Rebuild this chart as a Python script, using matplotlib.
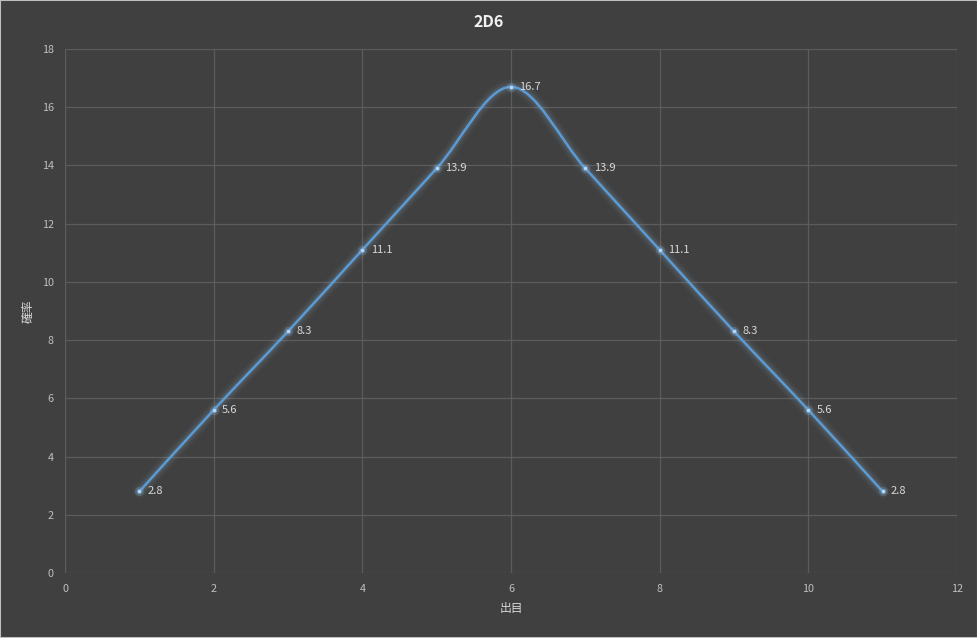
import matplotlib
matplotlib.use("Agg")
import matplotlib.pyplot as plt
from matplotlib.path import Path
from matplotlib.patches import PathPatch

plt.rcParams['font.family'] = ['Noto Sans CJK JP', 'DejaVu Sans']

# Data
rolls = [1, 2, 3, 4, 5, 6, 7, 8, 9, 10, 11]
probs = [2.8, 5.6, 8.3, 11.1, 13.9, 16.7, 13.9, 11.1, 8.3, 5.6, 2.8]
labels = ["2.8", "5.6", "8.3", "11.1", "13.9", "16.7", "13.9", "11.1", "8.3", "5.6", "2.8"]
title = "2D6"
xlabel = "出目"
ylabel = "確率"
xticks = [0, 2, 4, 6, 8, 10, 12]
yticks = [0, 2, 4, 6, 8, 10, 12, 14, 16, 18]

bg = "#404040"
grid_c = "#5c5c5c"
tick_c = "#bfbfbf"
line_c = "#5b9bd5"

fig = plt.figure(figsize=(9.78, 6.38), dpi=100, facecolor=bg)
fig.patches.append(plt.Rectangle((0, 0), 1, 1, transform=fig.transFigure,
                                 fill=False, edgecolor="#bfbfbf", linewidth=1.5))
ax = fig.add_axes([0.0665, 0.1019, 0.912, 0.8213])
ax.set_facecolor(bg)
ax.set_xlim(0, 12)
ax.set_ylim(0, 18)
ax.set_xticks(xticks)
ax.set_yticks(yticks)
ax.grid(True, color=grid_c, linewidth=0.9)
ax.set_axisbelow(True)
for s in ax.spines.values():
    s.set_visible(False)
ax.tick_params(length=0, colors=tick_c, labelsize=7.8, pad=8)

# Smoothed curve (Excel-like Bezier smoothing) drawn as a path in data coords
n = len(rolls)
verts = [(rolls[0], probs[0])]
codes = [Path.MOVETO]
t = 1.0 / 6.0
for i in range(n - 1):
    x0, y0 = (rolls[i - 1], probs[i - 1]) if i > 0 else (rolls[i], probs[i])
    x1, y1 = rolls[i], probs[i]
    x2, y2 = rolls[i + 1], probs[i + 1]
    x3, y3 = (rolls[i + 2], probs[i + 2]) if i + 2 < n else (x2, y2)
    c1 = (x1 + (x2 - x0) * t, y1 + (y2 - y0) * t)
    c2 = (x2 - (x3 - x1) * t, y2 - (y3 - y1) * t)
    verts += [c1, c2, (x2, y2)]
    codes += [Path.CURVE4] * 3
path = Path(verts, codes)

for w, a in [(10, 0.04), (7, 0.06), (4.5, 0.09)]:
    ax.add_patch(PathPatch(path, facecolor="none", edgecolor="#9dc3e6",
                           linewidth=w, alpha=a, capstyle="round", joinstyle="round"))
ax.add_patch(PathPatch(path, facecolor="none", edgecolor=line_c, linewidth=1.8))

ax.scatter(rolls, probs, s=45, color="#9dc3e6", alpha=0.2, zorder=3, linewidths=0)
ax.scatter(rolls, probs, s=9, color="#bdd7ee", zorder=4, linewidths=0.5, edgecolors="#5b9bd5")

for x, y, lab in zip(rolls, probs, labels):
    ax.annotate(lab, (x, y), xytext=(6, 0), textcoords="offset points",
                va="center", ha="left", color="#d9d9d9", fontsize=8)

fig.text(0.5, 0.965, title, ha="center", va="center", color="#f2f2f2",
         fontsize=11.5, fontweight="bold")
ax.set_xlabel(xlabel, color="#d9d9d9", fontsize=8.5, labelpad=6)
ax.set_ylabel(ylabel, color="#d9d9d9", fontsize=8.5, labelpad=5)

fig.savefig("out.png", dpi=100, facecolor=bg)
